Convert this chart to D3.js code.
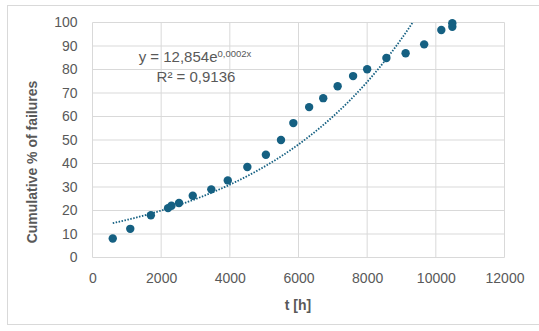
<!DOCTYPE html>
<html>
<head>
<meta charset="utf-8">
<script src="https://cdn.jsdelivr.net/npm/d3@7"></script>
<style>
  body { margin: 0; background: #fff; }
  text { font-family: "Liberation Sans", Arial, sans-serif; }
</style>
</head>
<body>
<svg id="chart" width="539" height="331"></svg>
<script>
// hours until failure
const hours = [590, 1100, 1700, 2200, 2300, 2520, 2920, 3460, 3940, 4510,
  5050, 5490, 5850, 6310, 6720, 7140, 7590, 8000, 8560, 9120, 9660, 10160, 10480, 10480];
// cumulative % of failures
const cumPct = [8.1, 12.2, 18, 21, 22, 23.2, 26.3, 29, 32.8, 38.5,
  43.7, 50, 57.2, 64, 67.8, 72.9, 77.2, 80.1, 84.9, 86.9, 90.7, 96.8, 98.2, 99.7];

const xTicks = [0, 2000, 4000, 6000, 8000, 10000, 12000];
const yTicks = [0, 10, 20, 30, 40, 50, 60, 70, 80, 90, 100];

// exponential trendline y = a*e^(b*x)
const trendA = 12.854, trendB = 0.00022;
const eqLabel = ["y = 12,854e", "0,0002x"];
const r2Label = "R² = 0,9136";

const svg = d3.select("#chart");
const margin = {left: 92.5, right: 34.5, top: 22.5, bottom: 73.5};
const width = +svg.attr("width"), height = +svg.attr("height");
const innerW = width - margin.left - margin.right;
const innerH = height - margin.top - margin.bottom;
const ptColor = "#156082";

// chart frame
svg.append("rect")
  .attr("x", 7.5).attr("y", 5.5)
  .attr("width", 540).attr("height", 319)
  .attr("fill", "none").attr("stroke", "#d9d9d9");

const x = d3.scaleLinear().domain([0, 12000]).range([0, innerW]);
const y = d3.scaleLinear().domain([0, 100]).range([innerH, 0]);

const g = svg.append("g").attr("transform", `translate(${margin.left},${margin.top})`);

// gridlines
g.selectAll(".hgrid").data(yTicks).enter().append("line")
  .attr("class", "hgrid")
  .attr("x1", 0).attr("x2", innerW)
  .attr("y1", d => y(d)).attr("y2", d => y(d))
  .attr("stroke", "#d9d9d9").attr("stroke-width", 1);
g.selectAll(".vgrid").data(xTicks).enter().append("line")
  .attr("class", "vgrid")
  .attr("y1", 0).attr("y2", innerH)
  .attr("x1", d => x(d)).attr("x2", d => x(d))
  .attr("stroke", "#d9d9d9").attr("stroke-width", 1);

// axes (labels only)
const xAxis = g.append("g")
  .attr("transform", `translate(0,${innerH})`)
  .call(d3.axisBottom(x).tickValues(xTicks).tickSize(0).tickPadding(16).tickFormat(d3.format("d")));
const yAxis = g.append("g")
  .call(d3.axisLeft(y).tickValues(yTicks).tickSize(0).tickPadding(15).tickFormat(d3.format("d")));
[xAxis, yAxis].forEach(a => {
  a.select(".domain").remove();
  a.selectAll("text").attr("fill", "#595959").style("font-size", "14px")
    .style("font-family", "'Liberation Sans', Arial, sans-serif");
});

// trendline, clipped to plot area
svg.append("clipPath").attr("id", "clip")
  .append("rect").attr("width", innerW).attr("height", innerH);
const tx = d3.range(d3.min(hours), d3.max(hours) + 1, 50);
const line = d3.line().x(d => x(d)).y(d => y(trendA * Math.exp(trendB * d)));
g.append("path")
  .datum(tx)
  .attr("clip-path", "url(#clip)")
  .attr("d", line)
  .attr("fill", "none")
  .attr("stroke", ptColor)
  .attr("stroke-width", 1.8)
  .attr("stroke-dasharray", "1.5,1.5");

// points
g.selectAll(".pt").data(hours).enter().append("circle")
  .attr("class", "pt")
  .attr("cx", d => x(d))
  .attr("cy", (d, i) => y(cumPct[i]))
  .attr("r", 4.2)
  .attr("fill", ptColor);

// equation labels
const eq = svg.append("text")
  .attr("x", 195).attr("y", 62)
  .attr("text-anchor", "middle")
  .attr("fill", "#595959").style("font-size", "15px");
eq.append("tspan").text(eqLabel[0]);
eq.append("tspan").attr("dy", -5).style("font-size", "9.5px").text(eqLabel[1]);
svg.append("text")
  .attr("x", 196).attr("y", 82)
  .attr("text-anchor", "middle")
  .attr("fill", "#595959").style("font-size", "15px")
  .text(r2Label);

// axis titles
svg.append("text")
  .attr("x", 298).attr("y", 310)
  .attr("text-anchor", "middle")
  .attr("fill", "#595959").style("font-size", "14px").style("font-weight", "bold")
  .text("t [h]");
svg.append("text")
  .attr("transform", "translate(37,162) rotate(-90)")
  .attr("text-anchor", "middle")
  .attr("fill", "#595959").style("font-size", "14px").style("font-weight", "bold")
  .text("Cumulative % of failures");
</script>
</body>
</html>
